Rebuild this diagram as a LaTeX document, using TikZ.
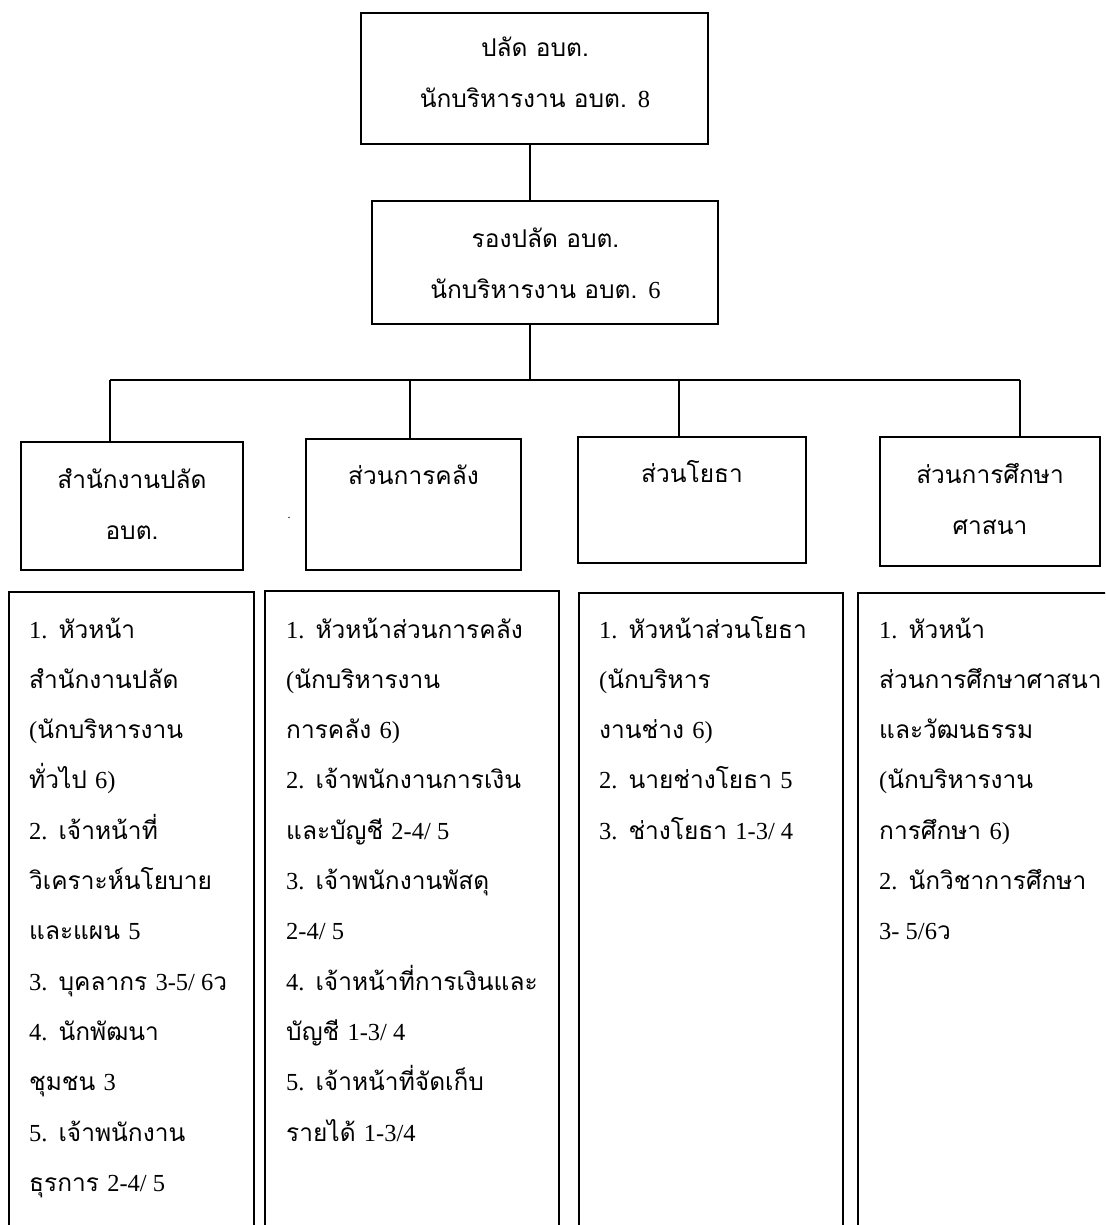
\documentclass[tikz,border=0pt]{standalone}
\usepackage{fontspec}
\newfontfamily\thf[Script=Thai]{Loma}
\newfontfamily\enf{Liberation Serif}
\newcommand\E[1]{{\enf #1}}
\newcommand\itm[1]{{\enf #1}\hspace{11pt}}
\begin{document}
\begin{tikzpicture}[x=1pt,y=-1pt,
  frame/.style={draw, line width=1.8pt, inner sep=0pt},
  link/.style={line width=1.8pt},
  hd/.style={anchor=base, inner sep=0pt, align=center,
    font=\thf\fontsize{24.5}{51}\selectfont},
  lst/.style={anchor=base west, inner sep=0pt, align=left,
    font=\thf\fontsize{24.5}{50.3}\selectfont}]
\useasboundingbox (0,0) rectangle (1105,1225);
\begin{scope}
\clip (0,0) rectangle (1105,1225);
% top boxes (text nodes anchored at the baseline of their last line)
\node[frame, minimum width=347pt, minimum height=131pt] (b0) at (534.5,78.5) {};
\node[hd] (t0) at (535,108) {ปลัด อบต.\\นักบริหารงาน อบต. \E{8}};
\node[frame, minimum width=346pt, minimum height=123pt] (b1) at (545,262.5) {};
\node[hd] (t1) at (545.5,298) {รองปลัด อบต.\\นักบริหารงาน อบต. \E{6}};
% header boxes
\node[frame, minimum width=222pt, minimum height=128pt] (h1) at (132,506) {};
\node[hd] (th1) at (132,539) {สำนักงานปลัด\\อบต.};
\node[frame, minimum width=215pt, minimum height=131pt] (h2) at (413.5,504.5) {};
\node[hd] (th2) at (413.5,484) {ส่วนการคลัง};
\node[frame, minimum width=228pt, minimum height=126pt] (h3) at (692,500) {};
\node[hd] (th3) at (692,482) {ส่วนโยธา};
\node[frame, minimum width=220pt, minimum height=129pt] (h4) at (990,501.5) {};
\node[hd] (th4) at (990,534) {ส่วนการศึกษา\\ศาสนา};
\node[inner sep=0pt, font=\enf\fontsize{12}{12}\selectfont] (dot) at (289,518) {.};
% connectors
\coordinate (v) at (530,0);
\coordinate (bus) at (0,380);
\draw[link] (b0.south -| v) -- (b1.north -| v);
\draw[link] (b1.south -| v) -- (bus -| v);
\coordinate (bl) at (110,380);
\coordinate (br) at (1020,380);
\coordinate (c2) at (410,380);
\coordinate (c3) at (679,380);
\draw[link] (bl) -- (br);
\draw[link] (bl) -- (bl |- h1.north);
\draw[link] (c2) -- (c2 |- h2.north);
\draw[link] (c3) -- (c3 |- h3.north);
\draw[link] (br) -- (br |- h4.north);
% detail boxes
\node[frame, minimum width=245pt, minimum height=660pt, anchor=north west] (d1) at (8,591) {};
\node[frame, minimum width=294pt, minimum height=660pt, anchor=north west] (d2) at (264,590) {};
\node[frame, minimum width=264pt, minimum height=660pt, anchor=north west] (d3) at (578,592) {};
\node[frame, minimum width=260pt, minimum height=660pt, anchor=north west] (d4) at (857,592) {};
\node[lst] (l1) at (29,1191.3) {\itm{1.}หัวหน้า\\สำนักงานปลัด\\\E{(}นักบริหารงาน\\ทั่วไป \E{6)}\\\itm{2.}เจ้าหน้าที่\\วิเคราะห์นโยบาย\\และแผน \E{5}\\\itm{3.}บุคลากร \E{3-5/ 6}ว\\\itm{4.}นักพัฒนา\\ชุมชน \E{3}\\\itm{5.}เจ้าพนักงาน\\ธุรการ \E{2-4/ 5}};
\node[lst] (l2) at (286,1141) {\itm{1.}หัวหน้าส่วนการคลัง\\\E{(}นักบริหารงาน\\การคลัง \E{6)}\\\itm{2.}เจ้าพนักงานการเงิน\\และบัญชี \E{2-4/ 5}\\\itm{3.}เจ้าพนักงานพัสดุ\\\E{2-4/ 5}\\\itm{4.}เจ้าหน้าที่การเงินและ\\บัญชี \E{1-3/ 4}\\\itm{5.}เจ้าหน้าที่จัดเก็บ\\รายได้ \E{1-3/4}};
\node[lst] (l3) at (599,839.2) {\itm{1.}หัวหน้าส่วนโยธา\\\E{(}นักบริหาร\\งานช่าง \E{6)}\\\itm{2.}นายช่างโยธา \E{5}\\\itm{3.}ช่างโยธา \E{1-3/ 4}};
\node[lst] (l4) at (879,939.8) {\itm{1.}หัวหน้า\\ส่วนการศึกษาศาสนา\\และวัฒนธรรม\\\E{(}นักบริหารงาน\\การศึกษา \E{6)}\\\itm{2.}นักวิชาการศึกษา\\\E{3- 5/6}ว};
\end{scope}
\end{tikzpicture}
\end{document}
